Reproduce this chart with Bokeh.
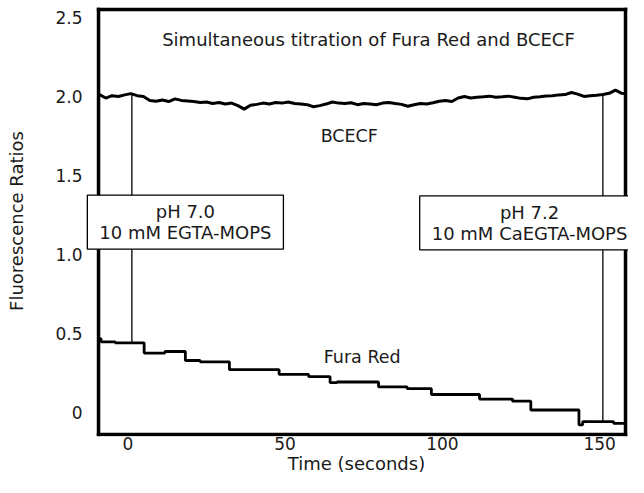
from bokeh.plotting import figure
from bokeh.models import Label, FixedTicker, Range1d
from bokeh.core.properties import value
from bokeh.embed import file_html
from bokeh.resources import INLINE

# ---------------- data ----------------
bcecf_t = [-9, -7, -5, -3, -1, 1, 3, 5, 7, 9, 11, 13, 15, 17, 19, 21, 23, 25, 27, 29,
           31, 33, 35, 37, 39, 41, 43, 45, 47, 49, 51, 53, 55, 57, 59, 61, 63, 65, 67, 69,
           71, 73, 75, 77, 79, 81, 83, 85, 87, 89, 91, 93, 95, 97, 99, 101, 103, 105, 107, 109,
           111, 113, 115, 117, 119, 121, 123, 125, 127, 129, 131, 133, 135, 137, 139, 141, 143,
           145, 147, 149, 151, 153, 155, 157, 158]
bcecf_ratio = [2.012, 1.990, 2.005, 2.000, 2.010, 2.018, 2.005, 2.000, 1.975, 1.970,
               1.978, 1.968, 1.985, 1.975, 1.972, 1.968, 1.962, 1.965, 1.955, 1.962,
               1.952, 1.958, 1.942, 1.920, 1.945, 1.950, 1.958, 1.952, 1.962, 1.958,
               1.965, 1.955, 1.952, 1.948, 1.935, 1.942, 1.952, 1.965, 1.958, 1.955,
               1.960, 1.948, 1.955, 1.952, 1.948, 1.958, 1.962, 1.955, 1.950, 1.938,
               1.948, 1.955, 1.952, 1.960, 1.970, 1.975, 1.968, 1.990, 2.000, 1.990,
               1.995, 1.998, 2.002, 1.995, 1.998, 2.002, 1.995, 1.988, 1.985, 1.995,
               1.998, 2.003, 2.005, 2.010, 2.012, 2.025, 2.015, 2.000, 2.005, 2.008,
               2.012, 2.020, 2.040, 2.020, 2.018]

fura_t = [-9.2, -8.5, -4.0, 5.2, 11.8, 18.3, 23.0, 32.3, 48.1, 57.5, 64.3, 66.5, 79.7,
          88.8, 96.5, 111.8, 122.3, 128.1, 143.4, 144.6, 154.4, 158.0]
fura_ratio = [0.468, 0.448, 0.442, 0.377, 0.387, 0.330, 0.322, 0.272, 0.242, 0.228,
              0.190, 0.194, 0.163, 0.152, 0.115, 0.086, 0.073, 0.017, -0.077, -0.056,
              -0.067, -0.067]

# solution changes: time, ratio of BCECF (top) and Fura Red (bottom)
event_t = [1.3, 151.0]
event_top = [2.018, 2.010]
event_bottom = [0.442, -0.056]
event_text = ["pH 7.0\n10 mM EGTA-MOPS", "pH 7.2\n10 mM CaEGTA-MOPS"]
event_label_x = [18.3, 127.7]
event_label_y = [1.205, 1.200]

x_ticks = [0, 50, 100, 150]
y_ticks = [0, 0.5, 1.0, 1.5, 2.0, 2.5]
y_tick_labels = ["0", "0.5", "1.0", "1.5", "2.0", "2.5"]

# extent of the drawn axis box (data units)
box_x = (-9.3, 158.2)
box_y = (-0.138, 2.55)

FONT = "DejaVu Sans"
INK = "#1a1a1a"

p = figure(width=628, height=477, output_backend="svg", toolbar_location=None,
           x_range=Range1d(-13.76, 159.15), y_range=Range1d(-0.1506, 2.5753),
           min_border_left=84, min_border_right=0, min_border_top=5, min_border_bottom=41)
p.background_fill_color = "white"
p.border_fill_color = "white"
p.outline_line_color = None
p.xgrid.visible = False
p.ygrid.visible = False

for ax in (p.xaxis[0], p.yaxis[0]):
    ax.axis_line_color = None
    ax.major_tick_line_color = None
    ax.minor_tick_line_color = None
    ax.major_tick_out = 0
    ax.major_tick_in = 0
    ax.major_label_text_font = FONT
    ax.major_label_text_font_size = "17px"
    ax.major_label_text_color = INK
    ax.axis_label_text_font = FONT
    ax.axis_label_text_font_size = "18px"
    ax.axis_label_text_font_style = "normal"
    ax.axis_label_text_color = INK

p.xaxis.ticker = FixedTicker(ticks=x_ticks)
p.yaxis.ticker = FixedTicker(ticks=y_ticks)
p.yaxis.major_label_overrides = {float(t): s for t, s in zip(y_ticks, y_tick_labels)}
p.xaxis.axis_label = "Time (seconds)"
p.yaxis.axis_label = "Fluorescence Ratios"
p.xaxis.major_label_standoff = 0
p.xaxis.axis_label_standoff = 0
p.yaxis.major_label_standoff = 2
p.yaxis.axis_label_standoff = 25

# axis box drawn as four thick segments
x0, x1 = box_x
y0, y1 = box_y
p.segment(x0=[x0, x0, x0, x1], y0=[y0, y1, y0, y0],
          x1=[x1, x1, x0, x1], y1=[y0, y1, y1, y1],
          line_color="black", line_width=3.5, line_cap="square")

# traces
p.line(bcecf_t, bcecf_ratio, line_color="black", line_width=3)
p.step(fura_t, fura_ratio, mode="after", line_color="black", line_width=2.8)

# event marker lines
p.segment(x0=event_t, y0=event_top, x1=event_t, y1=event_bottom,
          line_color="black", line_width=1.3)

# texts
p.text(x=[76.5], y=[2.36], text=["Simultaneous titration of Fura Red and BCECF"],
       text_font=value(FONT), text_font_size="18px", text_align="center",
       text_baseline="middle", text_color=INK)
p.text(x=[70.4], y=[1.753], text=["BCECF"], text_font=value(FONT), text_font_size="17.5px",
       text_align="center", text_baseline="middle", text_color=INK)
p.text(x=[74.5], y=[0.351], text=["Fura Red"], text_font=value(FONT), text_font_size="17.5px",
       text_align="center", text_baseline="middle", text_color=INK)

for lx, ly, txt in zip(event_label_x, event_label_y, event_text):
    p.add_layout(Label(x=lx, y=ly, text=txt, text_font=FONT, text_font_size="18px",
                       text_align="center", text_baseline="middle", text_line_height=1.0,
                       text_color=INK,
                       background_fill_color="white", border_line_color="black",
                       border_line_width=1.3, padding=(12, 6)))

open("out.html", "w").write(file_html(p, INLINE))
